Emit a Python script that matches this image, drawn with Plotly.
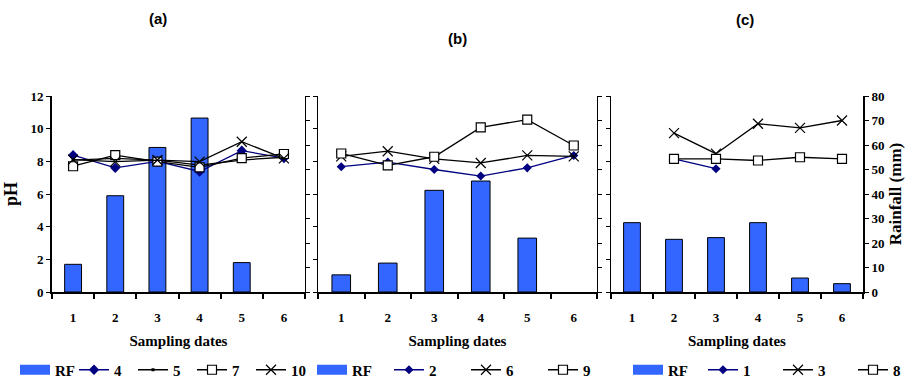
import plotly.graph_objects as go

W, H = 915, 386
dates = ["1", "2", "3", "4", "5", "6"]

# Panel (a)
rf_a = [11.3, 39.3, 59.0, 71.0, 12.0, None]
ph_a_4 = [8.38, 7.6, 8.0, 7.38, 8.65, 8.2]
ph_a_5 = [8.08, 8.18, 8.08, 7.77, 8.08, 8.25]
ph_a_7 = [7.7, 8.38, 7.98, 7.63, 8.2, 8.45]
ph_a_10 = [8.1, 7.98, 8.08, 7.98, 9.2, 8.18]

# Panel (b)
rf_b = [7.0, 11.8, 41.5, 45.3, 22.0, None]
ph_b_2 = [7.67, 7.95, 7.5, 7.1, 7.6, 8.36]
ph_b_6 = [8.3, 8.62, 8.15, 7.9, 8.36, 8.3]
ph_b_9 = [8.48, 7.75, 8.28, 10.08, 10.55, 8.97]

# Panel (c)
rf_c = [28.3, 21.5, 22.2, 28.3, 5.7, 3.4]
ph_c_1 = [None, 8.15, 7.55, None, None, None]
ph_c_3 = [None, 9.73, 8.47, 10.3, 10.05, 10.5]
ph_c_8 = [None, 8.15, 8.15, 8.05, 8.25, 8.15]

BAR = "#3366FF"
NAVY = "#000080"
SERIF = dict(family="Liberation Serif", weight="bold", color="black")
SANS = dict(family="Liberation Sans", weight="bold", color="black")

fig = go.Figure()


def px_x(v):
    return v / W


def px_y(v):
    return (H - v) / H


ydom = [px_y(292), px_y(96)]

panels = [
    dict(x="x", yr="y", yp="y2", leg="legend", rf=rf_a,
         lines=[("4", ph_a_4, "diamond", NAVY, 8, NAVY),
                ("5", ph_a_5, "square", "black", 3, "black"),
                ("7", ph_a_7, "square", "white", 9, "black"),
                ("10", ph_a_10, "x-thin-open", "black", 10, "black")]),
    dict(x="x2", yr="y3", yp="y4", leg="legend2", rf=rf_b,
         lines=[("2", ph_b_2, "diamond", NAVY, 7, NAVY),
                ("6", ph_b_6, "x-thin-open", "black", 10, "black"),
                ("9", ph_b_9, "square", "white", 9, "black")]),
    dict(x="x3", yr="y5", yp="y6", leg="legend3", rf=rf_c,
         lines=[("1", ph_c_1, "diamond", NAVY, 7, NAVY),
                ("3", ph_c_3, "x-thin-open", "black", 10, "black"),
                ("8", ph_c_8, "square", "white", 9, "black")]),
]

for p in panels:
    fig.add_trace(go.Bar(x=dates, y=p["rf"], name="RF", xaxis=p["x"], yaxis=p["yr"],
                         marker=dict(color=BAR, line=dict(color="black", width=1)),
                         width=0.4, showlegend=False, legend=p["leg"]))
    # legend entry for the rainfall bars (wide blue block like the original)
    fig.add_trace(go.Scatter(x=[None], y=[None], name="RF", mode="lines",
                             xaxis=p["x"], yaxis=p["yr"], legend=p["leg"],
                             line=dict(color=BAR, width=11)))
    for name, vals, sym, fill, size, lc in p["lines"]:
        mline = dict(color=lc, width=1.2) if (fill == "white" or "open" in sym) else dict(width=0)
        fig.add_trace(go.Scatter(x=dates, y=vals, name=name, mode="lines+markers",
                                 xaxis=p["x"], yaxis=p["yp"], legend=p["leg"],
                                 connectgaps=False,
                                 line=dict(color=lc, width=1.3),
                                 marker=dict(symbol=sym, color=fill, size=size, line=mline)))

xdoms = [[px_x(52), px_x(305)], [px_x(318), px_x(597)], [px_x(611), px_x(863)]]

layout = dict(
    width=W, height=H, margin=dict(l=0, r=0, t=0, b=0, autoexpand=False),
    plot_bgcolor="white", paper_bgcolor="white",
    showlegend=True, barmode="group",
)

xnames = ["xaxis", "xaxis2", "xaxis3"]
rnames = ["yaxis", "yaxis3", "yaxis5"]
pnames = ["yaxis2", "yaxis4", "yaxis6"]
ranch = ["y", "y3", "y5"]
xanch = ["x", "x2", "x3"]

for i in range(3):
    layout[xnames[i]] = dict(
        domain=xdoms[i], anchor=ranch[i], type="category", tickson="boundaries",
        ticks="outside", ticklen=5, tickwidth=2, tickcolor="black",
        showline=True, linecolor="black", linewidth=2, showgrid=False,
        tickfont=dict(size=13, **SERIF), ticklabelstandoff=12,
        title=dict(text="Sampling dates", font=dict(size=15, **SERIF), standoff=12),
        fixedrange=True, automargin=False,
    )
    layout[rnames[i]] = dict(
        domain=ydom, anchor=xanch[i], side="right", range=[0, 80], dtick=10,
        ticks="outside", ticklen=4, tickcolor="black", showline=True, linecolor="black",
        linewidth=2 if i == 2 else 1.3, showgrid=False, zeroline=False,
        showticklabels=(i == 2), tickfont=dict(size=13, **SERIF), automargin=False,
        title=dict(text="Rainfall (mm)" if i == 2 else "", font=dict(size=17, **SERIF), standoff=6),
    )
    layout[pnames[i]] = dict(
        overlaying=ranch[i], anchor=xanch[i], side="left", range=[0, 12], dtick=2,
        ticks="outside", ticklen=4, tickcolor="black", showline=True, linecolor="black",
        linewidth=2 if i == 0 else 1.3, showgrid=False, zeroline=False,
        showticklabels=(i == 0), tickfont=dict(size=13, **SERIF), automargin=False,
        title=dict(text="pH" if i == 0 else "", font=dict(size=18, **SERIF), standoff=8),
    )

legx = [px_x(15), px_x(312), px_x(628)]
legw = [14, 32, 30]
lnames = ["legend", "legend2", "legend3"]
for i in range(3):
    layout[lnames[i]] = dict(
        x=legx[i], y=px_y(370), xanchor="left", yanchor="middle", orientation="h",
        font=dict(size=15, **SERIF), bgcolor="rgba(0,0,0,0)", itemwidth=30,
        traceorder="normal", entrywidth=legw[i], entrywidthmode="pixels",
    )

fig.update_layout(**layout)

titles = [("(a)", 158, 18), ("(b)", 457, 38), ("(c)", 745, 20)]
for t, xx, yy in titles:
    fig.add_annotation(text=t, x=px_x(xx), y=px_y(yy), xref="paper", yref="paper",
                       xanchor="center", yanchor="middle",
                       showarrow=False, font=dict(size=15, **SANS))

fig.write_html("out.html", config={"displayModeBar": False},
               post_script="document.body.style.margin='0';")
